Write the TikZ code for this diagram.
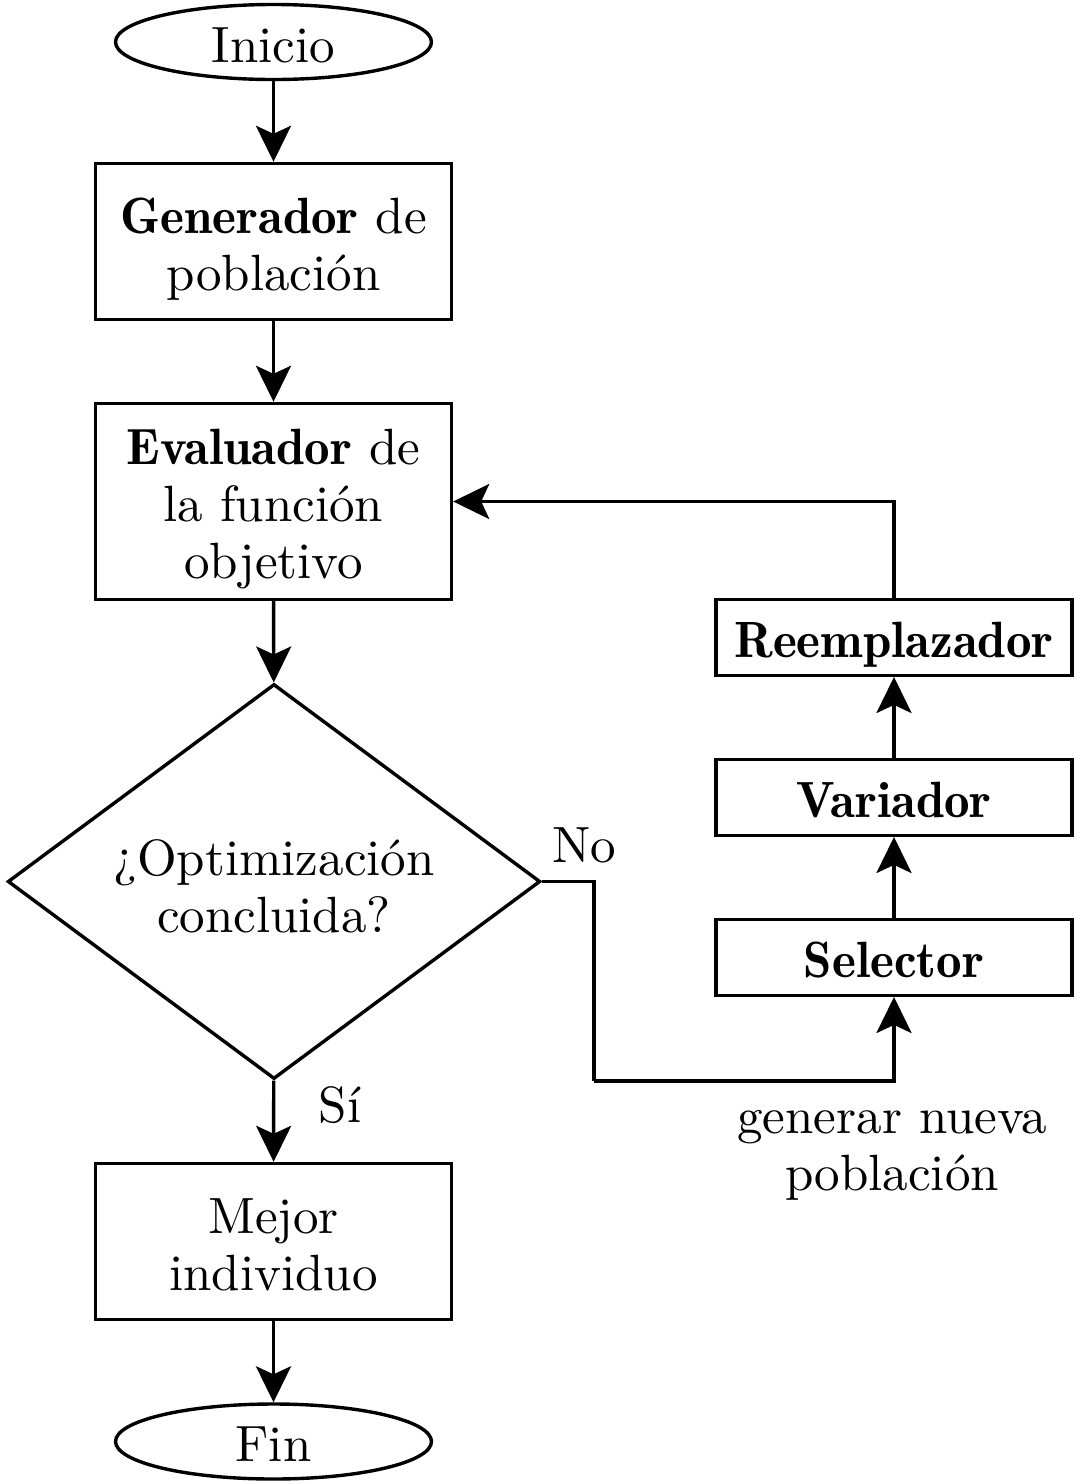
\documentclass[tikz,border=0pt]{standalone}
\usetikzlibrary{shapes.geometric,arrows.meta}
\font\rmten="[lmroman10-regular]" at 25.5pt
\font\demiten="[lmromandemi10-regular]" at 25.5pt
\newcommand{\rmf}{\rmten\baselineskip=28.5pt\relax}
\newcommand{\bw}[1]{{\demiten #1}}
\begin{document}
\begin{tikzpicture}[x=0.5pt,y=-0.5pt,
  every node/.style={font=\rmf},
  one/.style={text height=20pt,text depth=0pt},
  two/.style={text height=20pt,text depth=28.5pt},
  three/.style={text height=20pt,text depth=57pt},
  term/.style={draw,ellipse,line width=1.7pt,minimum width=158pt,minimum height=37.5pt,inner sep=0pt,one},
  bigbox/.style={draw,rectangle,line width=1.7pt,minimum width=178pt,minimum height=78pt,text width=170pt,align=center,inner sep=0pt},
  evbox/.style={bigbox,minimum height=98pt},
  smallbox/.style={draw,rectangle,line width=1.7pt,minimum width=178pt,minimum height=37.75pt,inner sep=0pt,one},
  dia/.style={draw,diamond,aspect=1.35,line width=1.7pt,minimum width=266.3pt,minimum height=197.5pt,inner sep=0pt,text width=170pt,align=center,text height=22pt,text depth=28.5pt},
  conn/.style={line width=1.7pt,-{Stealth[length=18pt,width=17.5pt,inset=4pt]}},
  lab/.style={inner sep=0pt}
]
\useasboundingbox (0,0) rectangle (1092,1484);
\node[term] (ini) at (273.5,42) {Inicio};
\node[bigbox,two] (gen) at (273.5,241.5) {\bw{Generador} de\\población};
\node[evbox,three] (eva) at (273.5,501.5) {\bw{Evaluador} de\\la función\\objetivo};
\node[dia] (opt) at (274,881.5) {¿Optimización\\concluida?};
\node[bigbox,two] (mej) at (273.5,1241.5) {Mejor\\individuo};
\node[term] (fin) at (273.5,1441.5) {Fin};
\node[smallbox] (ree) at (894,637.5) {\bw{Reemplazador}};
\node[smallbox] (var) at (894,797.5) {\bw{Variador}};
\node[smallbox] (sel) at (894,957.5) {\bw{Selector}};
\coordinate (k1) at (594,1081);
\node[lab,anchor=base] (no) at (584,862) {No};
\node[lab,anchor=base] (si) at (340,1122) {Sí};
\node[lab,align=center] (gnp) at (892,1155) {generar nueva\\población};
\draw[conn] (ini) -- (gen);
\draw[conn] (gen) -- (eva);
\draw[conn] (eva) -- (opt);
\draw[conn] (opt) -- (mej);
\draw[conn] (mej) -- (fin);
\draw[conn] (sel) -- (var);
\draw[conn] (var) -- (ree);
\draw[conn] (ree.north) |- (eva.east);
\draw[line width=1.7pt] (opt.east) -| (k1);
\draw[conn] (k1) -| (sel.south);
\end{tikzpicture}
\end{document}
